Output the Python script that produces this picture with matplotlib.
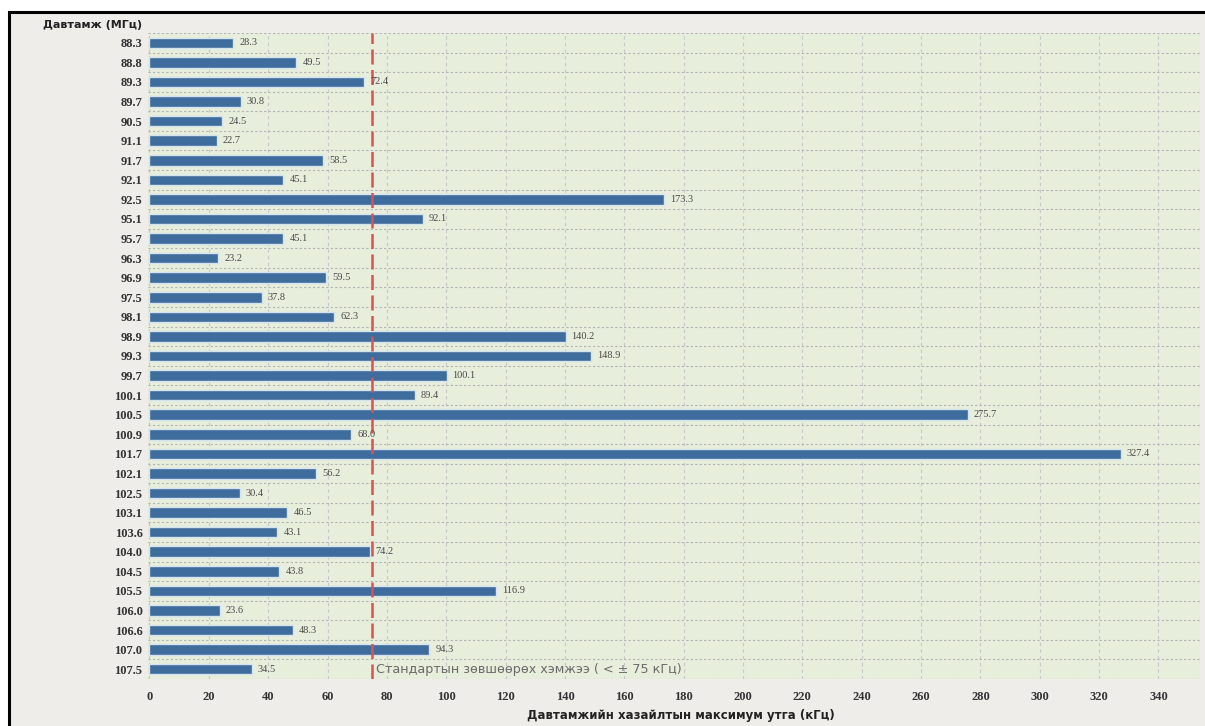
import numpy as np
import matplotlib
matplotlib.use("Agg")
import matplotlib.pyplot as plt
from matplotlib.patches import Rectangle

# data
freqs = ["88.3", "88.8", "89.3", "89.7", "90.5", "91.1", "91.7", "92.1", "92.5",
         "95.1", "95.7", "96.3", "96.9", "97.5", "98.1", "98.9", "99.3", "99.7",
         "100.1", "100.5", "100.9", "101.7", "102.1", "102.5", "103.1", "103.6",
         "104.0", "104.5", "105.5", "106.0", "106.6", "107.0", "107.5"]
deviation = [28.3, 49.5, 72.4, 30.8, 24.5, 22.7, 58.5, 45.1, 173.3,
             92.1, 45.1, 23.2, 59.5, 37.8, 62.3, 140.2, 148.9, 100.1,
             89.4, 275.7, 68.0, 327.4, 56.2, 30.4, 46.5, 43.1,
             74.2, 43.8, 116.9, 23.6, 48.3, 94.3, 34.5]
value_labels = ["28.3", "49.5", "72.4", "30.8", "24.5", "22.7", "58.5", "45.1", "173.3",
                "92.1", "45.1", "23.2", "59.5", "37.8", "62.3", "140.2", "148.9", "100.1",
                "89.4", "275.7", "68.0", "327.4", "56.2", "30.4", "46.5", "43.1",
                "74.2", "43.8", "116.9", "23.6", "48.3", "94.3", "34.5"]
limit = 75
xticks = list(range(0, 341, 20))

W, H = 1205, 726
fig = plt.figure(figsize=(W / 100, H / 100), dpi=100, facecolor="white")
# grey panel with black frame on top/left
fig.add_artist(Rectangle((9 / W, -0.01), 1.05, 1 - 12 / H + 0.01,
                         transform=fig.transFigure, facecolor="#efedea",
                         edgecolor="black", linewidth=2.2, zorder=0))

ax = fig.add_axes([148 / W, 1 - 679 / H, (1200 - 148) / W, (679 - 33) / H])
ax.set_facecolor("#e7eedc")

y = np.arange(len(freqs))
ax.barh(y, deviation, height=0.54, color="#3e6c9c", edgecolor="#d4e3f0",
        linewidth=1.0, zorder=3)

for yi, v, lab in zip(y, deviation, value_labels):
    ax.text(v + 2, yi, lab, va="center", ha="left", fontsize=7.5,
            family="Liberation Serif", color="#4a4a4a", zorder=5)

ax.axvline(limit, color="#d9534f", linestyle=(0, (6, 2.2)), linewidth=1.8, zorder=4)
ax.text(limit + 1.2, y[-1], "Стандартын зөвшөөрөх хэмжээ ( < ± 75 кГц)",
        va="center", ha="left", fontsize=9.2, color="#6a6a6a",
        family="DejaVu Sans", zorder=5)

ax.set_xlim(-0.5, 354)
ax.set_ylim(len(freqs) - 0.5, -0.5)
ax.set_yticks(y)
ax.set_yticklabels(freqs, family="Liberation Serif", fontweight="bold",
                   fontsize=9, color="#333333")
ax.set_xticks(xticks)
ax.set_xticklabels([str(t) for t in xticks], family="Liberation Serif",
                   fontweight="bold", fontsize=9, color="#333333")
ax.tick_params(length=0, pad=9)
ax.tick_params(axis="y", pad=4)

# grids: dotted rows between bars, dashed columns at ticks
ax.set_yticks(np.arange(len(freqs) + 1) - 0.5, minor=True)
ax.grid(axis="y", which="minor", color="#b4b4b4", linestyle=(0, (2, 2)),
        linewidth=0.8, zorder=1)
ax.grid(axis="x", which="major", color="#c8c8c8", linestyle=(0, (3, 3)),
        linewidth=0.8, zorder=1)
ax.tick_params(axis="y", which="minor", length=0)
for s in ax.spines.values():
    s.set_visible(False)

fig.text(681 / W, 1 - 715 / H, "Давтамжийн хазайлтын максимум утга (кГц)",
         fontsize=8.5, fontweight="bold", family="DejaVu Sans", color="#222222",
         ha="center", va="center")
fig.text(43 / W, 1 - 25 / H, "Давтамж (МГц)", fontsize=8, fontweight="bold",
         family="DejaVu Sans", color="#222222", ha="left", va="center")

fig.savefig("out.png", dpi=100, facecolor=fig.get_facecolor())
